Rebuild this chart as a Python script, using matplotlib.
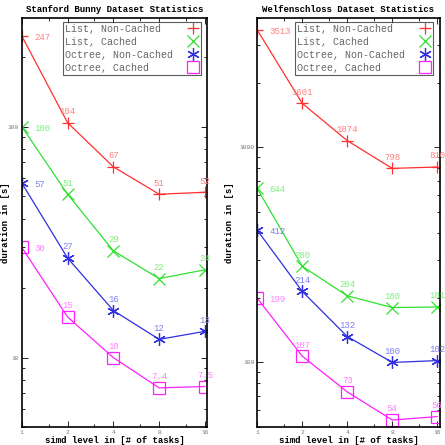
import matplotlib
matplotlib.use('Agg')
import matplotlib.pyplot as plt
from matplotlib.ticker import FixedLocator, NullFormatter, LogLocator

plt.rcParams['font.family'] = ['Liberation Mono', 'DejaVu Sans Mono']

simd = [1, 2, 4, 8, 16]
series_names = ['List, Non-Cached', 'List, Cached', 'Octree, Non-Cached', 'Octree, Cached']

bunny_list_nc = [247, 104, 67, 51, 52]
bunny_list_c = [100, 51, 29, 22, 24]
bunny_oct_nc = [57, 27, 16, 12, 13]
bunny_oct_c = [30, 15, 10, 7.4, 7.5]

welf_list_nc = [3513, 1601, 1074, 798, 810]
welf_list_c = [644, 280, 204, 180, 181]
welf_oct_nc = [412, 214, 132, 100, 102]
welf_oct_c = [199, 107, 73, 54, 56]

line_colors = ['#ff3030', '#30e030', '#3030e0', '#ff20ff']
text_colors = ['#ff8080', '#80ee80', '#8080ee', '#ff80ff']
markers = ['+', 'x', (6, 2, 0), 's']
msizes = [9, 9, 9, 8]

fig = plt.figure(figsize=(4.45, 4.45), dpi=100)
ax1 = fig.add_axes([0.049, 0.04, 0.417, 0.92])
ax2 = fig.add_axes([0.578, 0.04, 0.41, 0.92])

width = max(len(n) for n in series_names)


def draw(ax, data, title, ylim, yticks, ylab_x):
    for i, ys in enumerate(data):
        mfc = 'none' if markers[i] == 's' else line_colors[i]
        ax.plot(simd, ys, color=line_colors[i], lw=0.9, marker=markers[i],
                ms=msizes[i], mew=0.9, mfc=mfc, label=series_names[i].ljust(width))
        for j, (x, y) in enumerate(zip(simd, ys)):
            off = (9, -1) if j == 0 else (0, 8)
            ax.annotate('%g' % y, (x, y), xytext=off, textcoords='offset points',
                        ha='left' if j == 0 else 'center', va='center',
                        fontsize=6.5, color=text_colors[i])
    ax.set_xscale('log', base=2)
    ax.set_yscale('log')
    ax.set_xlim(1, 16.6)
    ax.set_ylim(*ylim)
    ax.xaxis.set_major_locator(FixedLocator(simd))
    ax.set_xticklabels([str(s) for s in simd])
    ax.xaxis.set_minor_locator(FixedLocator([1.5, 3, 6, 12]))
    ax.xaxis.set_minor_formatter(NullFormatter())
    ax.yaxis.set_major_locator(FixedLocator(yticks))
    ax.set_yticklabels([str(t) for t in yticks])
    ax.yaxis.set_minor_locator(LogLocator(base=10, subs=range(2, 10)))
    ax.yaxis.set_minor_formatter(NullFormatter())
    ax.tick_params(which='both', direction='in', top=True, right=True,
                   labelsize=4.5, labelcolor='#777777', pad=2)
    ax.tick_params(which='major', length=4, width=0.6)
    ax.tick_params(which='minor', length=2.5, width=0.6)
    ax.set_title(title, fontsize=6.5, fontweight='bold', pad=4)
    ax.set_xlabel('simd level in [# of tasks]', fontsize=6.5, fontweight='bold', labelpad=1)
    ax.set_ylabel('duration in [s]', fontsize=6.5, fontweight='bold')
    ax.yaxis.set_label_coords(ylab_x, 0.5)
    for s in ax.spines.values():
        s.set_linewidth(1.2)
    leg = ax.legend(loc='upper right', bbox_to_anchor=(0.965, 0.99),
                    markerfirst=False, fontsize=7.2,
                    frameon=True, fancybox=False, edgecolor='#333333',
                    borderpad=0.2, labelspacing=0.3, handlelength=1.2,
                    handletextpad=1.4, borderaxespad=0)
    leg.get_frame().set_linewidth(0.8)
    for t in leg.get_texts():
        t.set_color('#666666')
    for h in leg.legend_handles:
        h.set_linestyle('none')


draw(ax1, [bunny_list_nc, bunny_list_c, bunny_oct_nc, bunny_oct_c],
     'Stanford Bunny Dataset Statistics', (5.0, 296), [10, 100], -0.065)
draw(ax2, [welf_list_nc, welf_list_c, welf_oct_nc, welf_oct_c],
     'Welfenschloss Dataset Statistics', (50, 4000), [100, 1000], -0.125)

fig.savefig('out.png', dpi=100)
